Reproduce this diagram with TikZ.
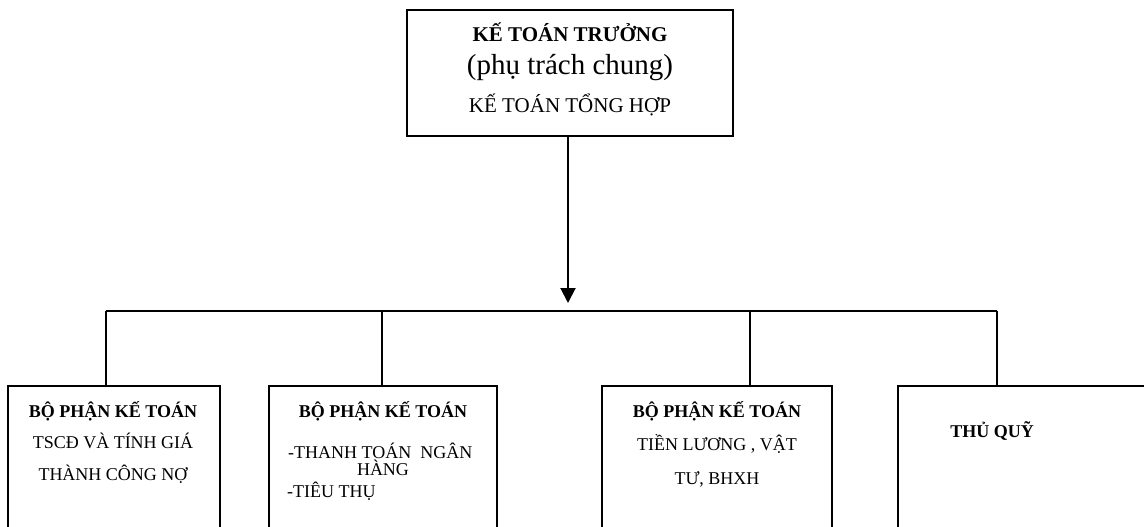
\documentclass[tikz,border=0pt]{standalone}
\usepackage{fontspec}
\setmainfont{Liberation Serif}
\usetikzlibrary{arrows.meta}
\tikzset{
  box/.style={draw, line width=2pt, rectangle, inner sep=0pt},
  conn/.style={line width=2pt},
  txt/.style={inner sep=0pt, anchor=base},
  txtl/.style={inner sep=0pt, anchor=base west},
  bt/.style={font=\fontsize{18}{20}\selectfont\bfseries},
  rt/.style={font=\fontsize{18}{20}\selectfont},
}
\begin{document}
\begin{tikzpicture}[x=1pt,y=-1pt]
\useasboundingbox (0,0) rectangle (1144,527);
\clip (0,0) rectangle (1144,527);
% top box
\node[box, minimum width=326pt, minimum height=126pt] (top) at (570,73) {};
\node[txt, font=\fontsize{21}{24}\selectfont\bfseries] (t1) at (570,42) {KẾ TOÁN TRƯỞNG};
\node[txt, font=\fontsize{29}{32}\selectfont] (t2) at (570,75) {(phụ trách chung)};
\node[txt, font=\fontsize{21}{24}\selectfont] (t3) at (570,112) {KẾ TOÁN TỔNG HỢP};
% bottom boxes (extend beyond picture edge)
\node[box, minimum width=212pt, minimum height=180pt] (b1) at (114,476) {};
\node[box, minimum width=228pt, minimum height=180pt] (b2) at (383,476) {};
\node[box, minimum width=230pt, minimum height=180pt] (b3) at (717,476) {};
\node[box, minimum width=300pt, minimum height=180pt] (b4) at (1048,476) {};
% texts box 1
\node[txt, bt] (b1a) at (113,417) {BỘ PHẬN KẾ TOÁN};
\node[txt, rt] (b1b) at (113,448) {TSCĐ VÀ TÍNH GIÁ};
\node[txt, rt] (b1c) at (113,480) {THÀNH CÔNG NỢ};
% texts box 2
\node[txt, bt] (b2a) at (383,417) {BỘ PHẬN KẾ TOÁN};
\node[txtl, rt] (b2b) at (288,458) {-THANH TOÁN\ \ NGÂN};
\node[txt, rt] (b2c) at (383,475) {HÀNG};
\node[txtl, rt] (b2d) at (287,497) {-TIÊU THỤ};
% texts box 3
\node[txt, bt] (b3a) at (717,417) {BỘ PHẬN KẾ TOÁN};
\node[txt, rt] (b3b) at (717,450) {TIỀN LƯƠNG , VẬT};
\node[txt, rt] (b3c) at (717,484) {TƯ, BHXH};
% box 4
\node[txt, bt] (b4a) at (992,437) {THỦ QUỸ};
% connectors
\coordinate (hub) at (568,303);
\coordinate (h1) at (106,311);
\coordinate (h2) at (382,311);
\coordinate (h3) at (750,311);
\coordinate (h4) at (997,311);
\draw[conn, -{Triangle[width=15pt,length=15pt]}] (top.south -| hub) -- (hub);
\draw[conn] (h1) -- (h4);
\draw[conn] (h1) -- (h1 |- b1.north);
\draw[conn] (h2) -- (h2 |- b2.north);
\draw[conn] (h3) -- (h3 |- b3.north);
\draw[conn] (h4) -- (h4 |- b4.north);
\end{tikzpicture}
\end{document}
